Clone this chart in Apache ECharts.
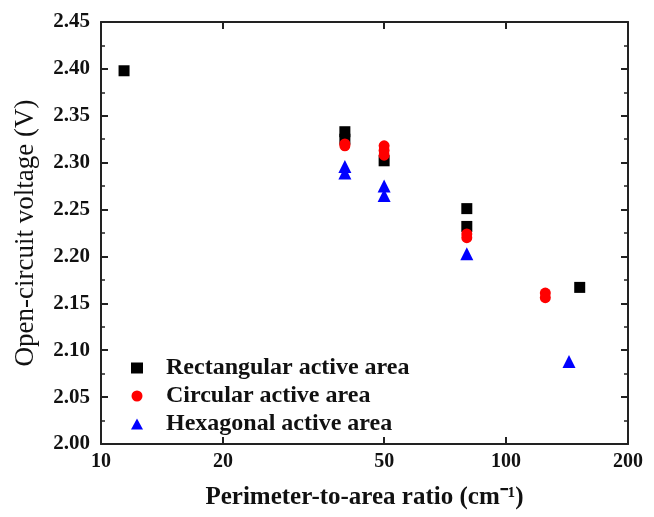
<!DOCTYPE html>
<html>
<head>
<meta charset="utf-8">
<script src="https://cdn.jsdelivr.net/npm/echarts@6/dist/echarts.min.js"></script>
<style>
  html, body { margin: 0; padding: 0; background: #fff; }
  #main { width: 654px; height: 517px; }
</style>
</head>
<body>
<div id="main"></div>
<script>
// data
var rectX = [11.4, 40, 40, 50, 80, 80, 152];
var rectY = [2.398, 2.333, 2.325, 2.302, 2.251, 2.232, 2.167];
var circX = [40, 40, 50, 50, 50, 80, 80, 125, 125];
var circY = [2.320, 2.318, 2.318, 2.313, 2.308, 2.224, 2.220, 2.161, 2.156];
var hexX = [40, 40, 50, 50, 80, 143];
var hexY = [2.296, 2.289, 2.275, 2.265, 2.203, 2.088];
var xTicks = [10, 20, 50, 100, 200];
var xInnerTicks = [20, 50, 100];

function pairs(xs, ys) {
  return xs.map(function (x, i) { return [x, ys[i]]; });
}

var font = 'Liberation Serif';
var chart = echarts.init(document.getElementById('main'));

var option = {
  animation: false,
  grid: { left: 101, right: 26, top: 22, bottom: 73 },
  legend: {
    orient: 'vertical',
    left: 126,
    top: 351,
    itemGap: 4,
    itemWidth: 12,
    itemHeight: 11,
    textStyle: { fontFamily: font, fontWeight: 'bold', fontSize: 24, color: '#111', padding: [0, 0, 0, 18] },
    data: ['Rectangular active area', 'Circular active area', 'Hexagonal active area']
  },
  xAxis: [{
    type: 'log',
    logBase: 10,
    min: 10,
    max: 200,
    name: 'Perimeter-to-area ratio (cm⁻¹)',
    nameLocation: 'middle',
    nameGap: 41,
    nameTextStyle: { fontFamily: font, fontWeight: 'bold', fontSize: 25, color: '#111' },
    axisLine: { lineStyle: { color: '#222', width: 2 } },
    axisTick: { inside: true, length: 7, customValues: xInnerTicks, lineStyle: { color: '#222', width: 2 } },
    axisLabel: { customValues: xTicks, fontFamily: font, fontWeight: 'bold', fontSize: 20, color: '#111', margin: 8 },
    splitLine: { show: false },
    minorTick: { show: false }
  }, {
    type: 'log',
    logBase: 10,
    min: 10,
    max: 200,
    position: 'top',
    axisLine: { lineStyle: { color: '#222', width: 2 } },
    axisTick: { inside: true, length: 7, customValues: xInnerTicks, lineStyle: { color: '#222', width: 2 } },
    axisLabel: { show: false },
    splitLine: { show: false }
  }],
  yAxis: [{
    type: 'value',
    min: 2.0,
    max: 2.45,
    interval: 0.05,
    name: 'Open-circuit voltage (V)',
    nameLocation: 'middle',
    nameGap: 62,
    nameTextStyle: { fontFamily: font, fontSize: 27, color: '#111' },
    axisLine: { show: true, lineStyle: { color: '#222', width: 2 } },
    axisTick: { inside: true, length: 7, lineStyle: { color: '#222', width: 2 } },
    minorTick: { show: true, splitNumber: 2, length: 4, lineStyle: { color: '#222', width: 1.5 } },
    axisLabel: {
      fontFamily: font, fontWeight: 'bold', fontSize: 21, color: '#111', margin: 11,
      formatter: function (v) { return v.toFixed(2); }
    },
    splitLine: { show: false }
  }, {
    type: 'value',
    min: 2.0,
    max: 2.45,
    interval: 0.05,
    position: 'right',
    axisLine: { show: true, lineStyle: { color: '#222', width: 2 } },
    axisTick: { inside: true, length: 7, lineStyle: { color: '#222', width: 2 } },
    minorTick: { show: true, splitNumber: 2, length: 4, lineStyle: { color: '#222', width: 1.5 } },
    axisLabel: { show: false },
    splitLine: { show: false }
  }],
  series: [{
    name: 'Rectangular active area',
    type: 'scatter',
    symbol: 'rect',
    symbolSize: 11,
    itemStyle: { color: '#000', opacity: 1 },
    data: pairs(rectX, rectY)
  }, {
    name: 'Circular active area',
    type: 'scatter',
    symbol: 'circle',
    symbolSize: 11,
    itemStyle: { color: '#ff0000', opacity: 1 },
    data: pairs(circX, circY)
  }, {
    name: 'Hexagonal active area',
    type: 'scatter',
    symbol: 'triangle',
    symbolSize: 13,
    itemStyle: { color: '#0000ff', opacity: 1 },
    data: pairs(hexX, hexY)
  }]
};

chart.setOption(option);
</script>
</body>
</html>
